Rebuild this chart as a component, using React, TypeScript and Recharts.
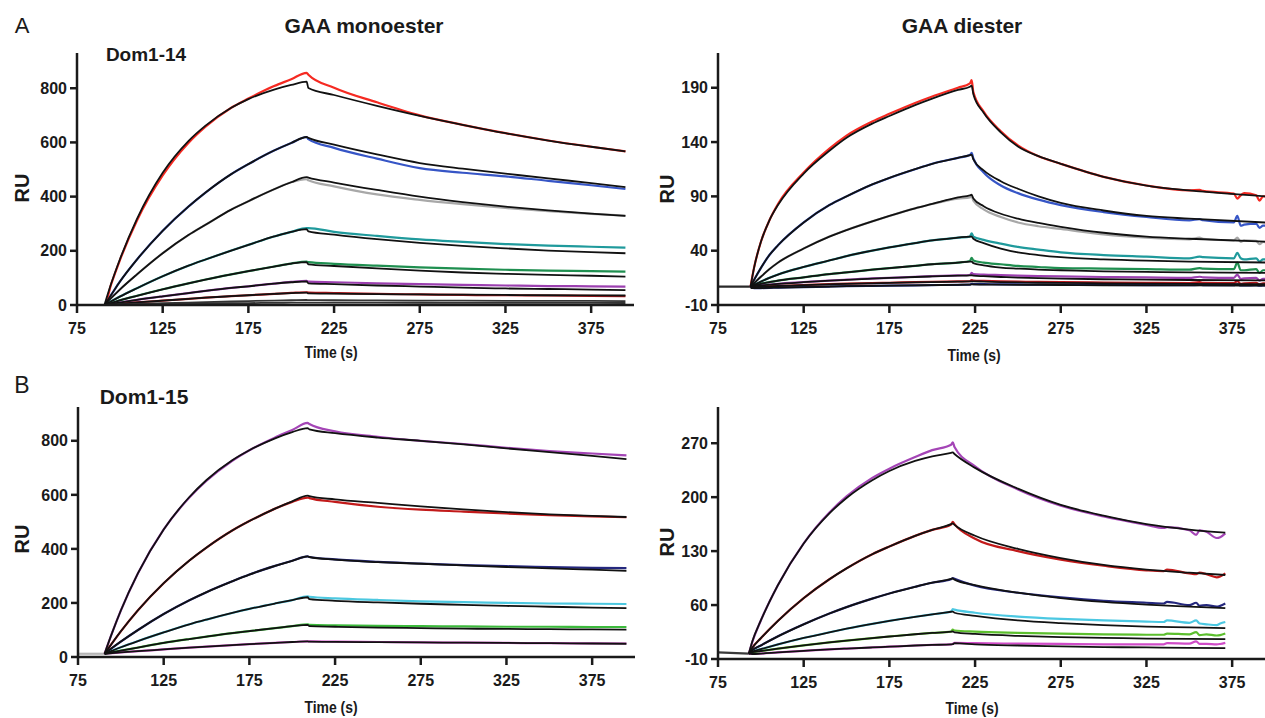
import { LineChart, Line, XAxis, YAxis } from "recharts";

document.body.style.margin = "0";

const FONT = "'Liberation Sans', Arial, Helvetica, sans-serif";
const INK = "#1a1a1a";
const Y_W = 60;
const X_H = 44;
const PAD = 6;

const xTicks = [75, 125, 175, 225, 275, 325, 375];

// ---- A: Dom1-14, GAA monoester ----
const a1Time = [75, 91, 95, 100, 110, 125, 140, 150, 165, 175, 190, 200, 209, 210, 225, 250, 275, 300, 325, 350, 375, 395];
const a1Red = [0, 0, 78, 165, 312, 478, 598, 658, 728, 762, 808, 833, 857, 850, 802, 748, 700, 665, 634, 607, 584, 567];
const a1RedFit = [null, 0, 80, 168, 318, 488, 605, 662, 728, 760, 795, 812, 824, 801, 775, 735, 698, 665, 634, 607, 584, 567];
const a1Blue = [0, 0, 38, 86, 168, 274, 363, 415, 483, 520, 570, 598, 620, 612, 580, 540, 505, 488, 475, 458, 442, 428];
const a1BlueFit = [null, 0, 38, 86, 168, 274, 363, 415, 483, 520, 570, 598, 620, 617, 592, 556, 524, 503, 485, 467, 450, 435];
const a1Gray = [0, 0, 26, 57, 113, 191, 258, 296, 352, 383, 427, 453, 464, 460, 438, 408, 388, 372, 358, 346, 336, 330];
const a1GrayFit = [null, 0, 26, 57, 113, 191, 258, 296, 352, 383, 427, 453, 472, 470, 452, 425, 400, 380, 363, 349, 337, 329];
const a1Teal = [0, 0, 14, 31, 62, 106, 145, 168, 201, 222, 253, 270, 284, 284, 270, 255, 242, 233, 225, 219, 215, 212];
const a1TealFit = [null, 0, 14, 31, 62, 106, 145, 168, 201, 222, 253, 270, 280, 272, 260, 243, 229, 218, 209, 201, 195, 191];
const a1Green = [0, 0, 7, 17, 34, 58, 80, 94, 113, 125, 142, 153, 160, 158, 152, 145, 139, 134, 130, 127, 125, 123];
const a1GreenFit = [null, 0, 7, 17, 34, 58, 80, 94, 113, 125, 142, 153, 158, 150, 144, 135, 127, 120, 115, 111, 108, 105];
const a1Purple = [0, 0, 4, 9, 19, 32, 44, 52, 63, 69, 79, 85, 89, 86, 84, 80, 77, 74, 72, 70, 69, 68];
const a1PurpleFit = [null, 0, 4, 9, 19, 32, 44, 52, 63, 69, 79, 84, 87, 80, 77, 72, 68, 64, 61, 59, 57, 55];
const a1DarkRed = [0, 0, 2, 4.5, 9.5, 16, 22.5, 27, 32.5, 36, 41, 44.5, 47, 46, 44, 41, 39, 37, 36, 35, 34, 33];
const a1DarkRedFit = [null, 0, 2, 4.5, 9.5, 16, 22.5, 27, 32.5, 36, 41, 44, 46, 43, 42, 40, 39, 38, 37, 36, 35.5, 35];
const a1Low1Fit = [null, 0, 1, 2, 4, 6.5, 9, 10.5, 13, 14.5, 16.5, 17.5, 18.5, 18, 17.5, 17, 16.5, 16, 15.5, 15, 15, 14.5];
const a1Low2Fit = [null, 0, 0.5, 1, 2, 3.5, 4.5, 5.5, 6.5, 7, 8, 8.5, 9, 9, 8.8, 8.5, 8.3, 8, 7.8, 7.6, 7.5, 7.4];

// ---- A: Dom1-14, GAA diester ----
const a2Time = [75, 94, 96, 100, 105, 110, 125, 140, 150, 165, 175, 190, 200, 215, 222, 223, 224, 230, 240, 250, 262, 275, 300, 325, 350, 356, 358, 376, 378, 380, 382, 389, 391, 393, 400];
const N9 = [null, null, null, null, null, null, null, null, null];
const a2Base = [7, 7];
const a2Red = [null, 7, 24, 48, 68, 83, 112, 134, 146, 159, 166, 176, 182, 190, 194, 197, 186, 168, 150, 137, 127, 120, 108, 100, 95.5, 96, 95, 92.5, 88, 91, 93, 91, 86, 90, 89];
const a2RedFit = [null, 7, 24, 48, 68, 82, 111, 132, 144, 157, 164, 174, 180, 188, 191, 192, 184, 167, 149, 136, 127, 120, 108, 100, 95.5, ...N9, 89.5];
const a2Blue = [null, 7, 13, 24, 36, 45, 66, 82, 90, 101, 107, 115, 120, 125.5, 128, 130, 125, 112, 100, 93, 87, 82, 75.5, 71, 68, 69, 68, 66, 72, 63, 64, 65, 61, 63, 63];
const a2BlueFit = [null, 7, 13, 24, 36, 45, 66, 82, 90, 101, 107, 115, 120, 125.5, 128, 128.5, 124, 114, 104, 97, 90, 84, 77, 72, 69.5, ...N9, 65.5];
const a2Gray = [null, 7, 10, 16, 23, 29, 42, 53, 59, 67, 72, 79, 83, 88, 89, 90, 86, 78, 71, 66, 62.5, 60, 55, 52, 50.5, 52, 51, 49.5, 52, 48, 49.5, 49, 46, 48, 47.5];
const a2GrayFit = [null, 7, 10, 16, 23, 29, 42, 53, 59, 67, 72, 79, 83, 89, 91, 91.5, 88, 81, 74, 69.5, 65.5, 62, 56.5, 53, 51, ...N9, 48];
const a2Teal = [null, 7, 8.5, 11.5, 15, 18, 25, 31, 35, 40, 43, 47, 49.5, 52, 53, 56, 53, 50, 46.5, 43.5, 41, 38.5, 36, 34.5, 33, 34.5, 34, 33, 38, 33, 32, 33, 30, 32, 31.5];
const a2TealFit = [null, 7, 8.5, 11.5, 15, 18, 25, 31, 35, 40, 43, 47, 49.5, 52, 53, 53, 51, 47, 42, 38.5, 36, 34, 32, 30.8, 30, ...N9, 29];
const a2Green = [null, 7, 7.8, 9.5, 11, 12.5, 15.5, 18.5, 20, 22.5, 24, 26, 27.5, 29, 30.5, 33.5, 31, 29, 27.5, 26, 25, 24, 23.5, 23, 22.5, 24, 23.5, 23, 29, 22, 22, 23, 19.5, 22, 21.5];
const a2GreenFit = [null, 7, 7.8, 9.5, 11, 12.5, 15.5, 18.5, 20, 22.5, 24, 26, 27.5, 29, 30, 30, 28.5, 26.5, 24.5, 23.5, 22.5, 22, 21, 20.5, 20, ...N9, 19.5];
const a2Purple = [null, 7, 7.5, 8, 8.8, 9.5, 11, 12.5, 13.3, 14.5, 15, 16, 16.5, 17.3, 17.6, 19.5, 18.5, 18, 17.5, 17, 16.6, 16.3, 15.8, 15.4, 15, 16, 15.5, 15, 18, 14, 14.5, 15, 12.5, 14, 14];
const a2PurpleFit = [null, 7, 7.4, 8, 8.7, 9.4, 11, 12.4, 13.2, 14.3, 14.9, 15.8, 16.3, 17, 17.3, 17.4, 17, 16.5, 15.8, 15.2, 14.7, 14.3, 13.7, 13.3, 13, ...N9, 12.6];
const a2DarkRed = [null, 7, 6.5, 6.8, 7.2, 7.6, 8.4, 9.2, 9.6, 10.2, 10.5, 11, 11.3, 11.7, 11.9, 13, 12.5, 12.2, 11.8, 11.5, 11.2, 11, 10.7, 10.4, 10.2, 11, 10.5, 10.2, 12, 9.5, 10, 10.5, 9, 10, 10];
const a2DarkRedFit = [null, 6.5, 6.5, 6.8, 7.1, 7.5, 8.3, 9, 9.5, 10, 10.3, 10.8, 11.1, 11.5, 11.7, 11.8, 11.8, 11.5, 11.1, 10.8, 10.5, 10.3, 10, 9.7, 9.5, ...N9, 9.2];
const a2Navy = [null, 7, 5.5, 5.6, 5.8, 6, 6.5, 7, 7.3, 7.6, 7.8, 8.1, 8.3, 8.6, 8.8, 9.5, 9.3, 9.2, 9, 8.9, 8.8, 8.7, 8.5, 8.3, 8.2, 8.5, 8.3, 8.2, 9, 8, 8, 8.2, 7.8, 8, 8];
const a2NavyFit = [null, 5.5, 5.5, 5.6, 5.8, 6, 6.5, 7, 7.3, 7.6, 7.8, 8.1, 8.3, 8.6, 8.8, 8.9, 8.9, 8.8, 8.7, 8.6, 8.5, 8.4, 8.2, 8.1, 8, ...N9, 7.9];

// ---- B: Dom1-15, GAA monoester ----
const b1Time = [75, 90.5, 95, 100, 110, 125, 140, 150, 165, 175, 190, 200, 209, 210, 225, 250, 275, 300, 325, 350, 375, 395];
const b1Base = [12, 12];
const b1Purple = [null, 12, 91, 172, 310, 472, 590, 652, 726, 765, 812, 840, 866, 862, 835, 815, 800, 788, 774, 762, 753, 746];
const b1PurpleFit = [null, 12, 91, 172, 310, 472, 592, 655, 728, 765, 809, 832, 847, 842, 828, 812, 800, 787, 772, 758, 744, 732];
const b1Red = [null, 12, 52, 95, 173, 273, 357, 405, 468, 503, 549, 574, 590, 588, 574, 556, 545, 538, 531, 525, 520, 517];
const b1RedFit = [null, 12, 52, 95, 173, 273, 357, 405, 468, 503, 549, 576, 597, 595, 583, 570, 557, 546, 536, 528, 522, 518];
const b1Navy = [null, 12, 34, 57, 100, 159, 210, 240, 280, 305, 337, 356, 372, 370, 361, 352, 346, 340, 336, 333, 330, 329];
const b1NavyFit = [null, 12, 34, 57, 100, 159, 210, 240, 280, 305, 337, 356, 372, 370, 360, 351, 345, 339, 333, 328, 323, 319];
const b1Cyan = [null, 12, 23.5, 36, 59, 91, 121, 138.5, 163, 178, 198, 210.5, 224, 223, 217, 211, 206, 203, 200, 198, 197, 196];
const b1CyanFit = [null, 12, 23.5, 36, 59, 91, 121, 138.5, 163, 178, 198, 210.5, 221, 214, 208, 202, 197, 193, 189, 186, 183, 181];
const b1Green = [null, 12, 17.6, 23.7, 35, 52, 66.5, 75.6, 88.5, 96, 107, 114, 121, 119, 117, 115, 114, 113, 112, 112, 111, 111];
const b1GreenFit = [null, 12, 17.6, 23.7, 35, 52, 66.5, 75.6, 88.5, 96, 107, 114, 119, 114, 112, 109, 107, 105, 104, 103, 102, 101];
const b1Magenta = [null, 12, 14.3, 16.8, 21.6, 28, 34.5, 38.5, 44, 47.5, 52.4, 55.5, 58, 58, 57, 55.5, 54, 53, 52, 51, 50.5, 50];
const b1MagentaFit = [null, 12, 14.3, 16.8, 21.6, 28, 34.5, 38.5, 44, 47.5, 52.4, 55.5, 57.5, 57, 56, 55, 54, 53, 52, 51, 50, 49];

// ---- B: Dom1-15, GAA diester ----
const b2Time = [75, 93, 95, 100, 110, 125, 140, 150, 165, 175, 190, 200, 211, 212, 213, 225, 250, 275, 300, 325, 335, 337, 350, 354, 356, 360, 366, 368, 371];
const b2Base = [-1.5, -3];
const b2Purple = [null, -3, 12, 40, 86, 140, 180, 201, 225, 237, 252, 261, 268, 271, 265, 240, 210, 189, 175, 164, 160, 161, 157, 151, 157, 155, 147, 148, 153];
const b2PurpleFit = [null, -3, 12.7, 40, 86, 140, 179, 199, 222, 234, 247, 253, 257.5, 258, 256, 238, 211, 190, 176, 165, null, null, 158, null, null, null, null, null, 154];
const b2Red = [null, -3, 4.5, 17, 39.6, 69, 93.5, 107.6, 126, 136, 149.8, 157.5, 164.5, 168, 165, 146, 130, 119, 111, 105, 104, 106, 101, 100, 102, 100, 96, 97, 101];
const b2RedFit = [null, -3, 4.5, 17, 39.6, 69, 93.5, 107.6, 126, 136, 149.8, 157.5, 165, 166, 164, 150, 133, 121, 112, 106, null, null, 102, null, null, null, null, null, 99];
const b2Navy = [null, -3, 1.3, 7.6, 19.4, 35, 49, 57.3, 68.3, 75, 83.7, 89, 93.5, 95, 94, 85, 76, 70, 65.5, 63, 62, 64, 60, 63, 59, 60, 58, 59, 62];
const b2NavyFit = [null, -3, 1.3, 7.6, 19.4, 35, 49, 57.3, 68.3, 75, 83.7, 89, 94, 94.7, 93, 86, 76, 69, 64, 60.5, null, null, 58, null, null, null, null, null, 56];
const b2Cyan = [null, -3, -0.4, 2.8, 8.9, 17.3, 24.7, 29.3, 35.6, 39.5, 44.8, 48, 51.5, 54.6, 54, 50, 45, 42, 40, 38.5, 38, 40, 37, 40, 36, 35, 34, 36, 38];
const b2CyanFit = [null, -3, -0.4, 2.8, 8.9, 17.3, 24.7, 29.3, 35.6, 39.5, 44.8, 48, 51.3, 51.6, 50, 46, 40, 36.5, 34, 32, null, null, 31, null, null, null, null, null, 30];
const b2Green = [null, -3, -1.2, 0.4, 3.4, 7.6, 11.5, 13.9, 17.2, 19.2, 22.1, 23.8, 25.5, 28, 27, 25.5, 24, 23, 22, 21.5, 21.5, 23, 22, 25, 21, 22, 20.5, 21, 23];
const b2GreenFit = [null, -3, -1.2, 0.4, 3.4, 7.6, 11.5, 13.9, 17.2, 19.2, 22.1, 23.8, 25.5, 25.8, 24.5, 22.5, 20, 18.5, 17.5, 16.5, null, null, 16, null, null, null, null, null, 15.8];
const b2Magenta = [null, -3, -3.5, -3, -1.5, 0.5, 2.5, 3.5, 5, 6, 7.5, 8.3, 9, 9.5, 11, 10.5, 10, 9.5, 9, 9, 9, 10.5, 10, 13, 9.5, 9.5, 9, 9.5, 11];
const b2MagentaFit = [null, -3, -3.5, -3, -1.5, 0.5, 2.5, 3.5, 5, 6, 7.5, 8.3, 9, 9.2, 10.5, 9, 7.5, 6.5, 5.5, 5, null, null, 4.5, null, null, null, null, null, 4.2];

type Series = { key: string; values: (number | null)[]; color: string; fit?: boolean };

const FIT = "#111111";

const a1Series: Series[] = [
  { key: "red", values: a1Red, color: "#f52a22" },
  { key: "blue", values: a1Blue, color: "#3655c6" },
  { key: "gray", values: a1Gray, color: "#a8a8a8" },
  { key: "teal", values: a1Teal, color: "#1f9a9c" },
  { key: "green", values: a1Green, color: "#1f8f50" },
  { key: "purple", values: a1Purple, color: "#9c40b0" },
  { key: "darkred", values: a1DarkRed, color: "#b8171c" },
  { key: "redFit", values: a1RedFit, color: FIT, fit: true },
  { key: "blueFit", values: a1BlueFit, color: FIT, fit: true },
  { key: "grayFit", values: a1GrayFit, color: FIT, fit: true },
  { key: "tealFit", values: a1TealFit, color: FIT, fit: true },
  { key: "greenFit", values: a1GreenFit, color: FIT, fit: true },
  { key: "purpleFit", values: a1PurpleFit, color: FIT, fit: true },
  { key: "darkredFit", values: a1DarkRedFit, color: FIT, fit: true },
  { key: "low1Fit", values: a1Low1Fit, color: "#333", fit: true },
  { key: "low2Fit", values: a1Low2Fit, color: "#333", fit: true },
];

const a2Series: Series[] = [
  { key: "base", values: a2Base, color: "#2a2a2a" },
  { key: "red", values: a2Red, color: "#f52a22" },
  { key: "blue", values: a2Blue, color: "#3655c6" },
  { key: "gray", values: a2Gray, color: "#a8a8a8" },
  { key: "teal", values: a2Teal, color: "#1f9a9c" },
  { key: "green", values: a2Green, color: "#1f8f50" },
  { key: "purple", values: a2Purple, color: "#9c40b0" },
  { key: "darkred", values: a2DarkRed, color: "#b8171c" },
  { key: "navy", values: a2Navy, color: "#1c2a8a" },
  { key: "redFit", values: a2RedFit, color: FIT, fit: true },
  { key: "blueFit", values: a2BlueFit, color: FIT, fit: true },
  { key: "grayFit", values: a2GrayFit, color: FIT, fit: true },
  { key: "tealFit", values: a2TealFit, color: FIT, fit: true },
  { key: "greenFit", values: a2GreenFit, color: FIT, fit: true },
  { key: "purpleFit", values: a2PurpleFit, color: FIT, fit: true },
  { key: "darkredFit", values: a2DarkRedFit, color: FIT, fit: true },
  { key: "navyFit", values: a2NavyFit, color: FIT, fit: true },
];

const b1Series: Series[] = [
  { key: "base", values: b1Base, color: "#b5b5b5" },
  { key: "purple", values: b1Purple, color: "#a445b6" },
  { key: "red", values: b1Red, color: "#c21a1a" },
  { key: "navy", values: b1Navy, color: "#25287e" },
  { key: "cyan", values: b1Cyan, color: "#4cc8e0" },
  { key: "green", values: b1Green, color: "#3cba3c" },
  { key: "magenta", values: b1Magenta, color: "#d04cc8" },
  { key: "purpleFit", values: b1PurpleFit, color: FIT, fit: true },
  { key: "redFit", values: b1RedFit, color: FIT, fit: true },
  { key: "navyFit", values: b1NavyFit, color: FIT, fit: true },
  { key: "cyanFit", values: b1CyanFit, color: FIT, fit: true },
  { key: "greenFit", values: b1GreenFit, color: FIT, fit: true },
  { key: "magentaFit", values: b1MagentaFit, color: FIT, fit: true },
];

const b2Series: Series[] = [
  { key: "base", values: b2Base, color: "#3a3a3a" },
  { key: "purple", values: b2Purple, color: "#a445b6" },
  { key: "red", values: b2Red, color: "#c21a1a" },
  { key: "navy", values: b2Navy, color: "#25287e" },
  { key: "cyan", values: b2Cyan, color: "#4cc8e2" },
  { key: "green", values: b2Green, color: "#5cbf2e" },
  { key: "magenta", values: b2Magenta, color: "#d04cc8" },
  { key: "purpleFit", values: b2PurpleFit, color: FIT, fit: true },
  { key: "redFit", values: b2RedFit, color: FIT, fit: true },
  { key: "navyFit", values: b2NavyFit, color: FIT, fit: true },
  { key: "cyanFit", values: b2CyanFit, color: FIT, fit: true },
  { key: "greenFit", values: b2GreenFit, color: FIT, fit: true },
  { key: "magentaFit", values: b2MagentaFit, color: FIT, fit: true },
];

function buildRows(time: number[], series: Series[]) {
  return time.map((t, i) => {
    const row: Record<string, number | null> = { t };
    series.forEach((s) => {
      row[s.key] = i < s.values.length ? s.values[i] : null;
    });
    return row;
  });
}

interface PanelProps {
  left: number;
  top: number;
  plotW: number;
  plotH: number;
  yDomain: [number, number];
  yTicks: number[];
  time: number[];
  series: Series[];
}

function Panel({ left, top, plotW, plotH, yDomain, yTicks, time, series }: PanelProps) {
  const rows = buildRows(time, series);
  const tickStyle = { fill: INK, fontSize: 16, fontWeight: 700, fontFamily: FONT };
  const axisStroke = { stroke: INK, strokeWidth: 2.5 };
  return (
    <div style={{ position: "absolute", left: left - Y_W, top: top - PAD }}>
      <LineChart
        width={Y_W + plotW}
        height={PAD + plotH + X_H}
        data={rows}
        margin={{ top: PAD, right: 0, bottom: 0, left: 0 }}
      >
        <XAxis
          type="number"
          dataKey="t"
          domain={[75, 400]}
          ticks={xTicks}
          interval={0}
          allowDataOverflow
          height={X_H}
          tickSize={8}
          tickMargin={10}
          axisLine={axisStroke}
          tickLine={axisStroke}
          tick={tickStyle}
        />
        <YAxis
          type="number"
          domain={yDomain}
          ticks={yTicks}
          interval={0}
          allowDataOverflow
          width={Y_W}
          tickSize={7}
          tickMargin={3}
          axisLine={axisStroke}
          tickLine={axisStroke}
          tick={tickStyle}
        />
        {series
          .filter((s) => !s.fit)
          .map((s) => (
            <Line
              key={s.key}
              type="monotone"
              dataKey={s.key}
              stroke={s.color}
              strokeWidth={2.2}
              dot={false}
              activeDot={false}
              isAnimationActive={false}
            />
          ))}
        {series
          .filter((s) => s.fit)
          .map((s) => (
            <Line
              key={s.key}
              type="monotone"
              dataKey={s.key}
              stroke={s.color}
              strokeWidth={1.8}
              dot={false}
              activeDot={false}
              connectNulls
              isAnimationActive={false}
            />
          ))}
      </LineChart>
    </div>
  );
}

function Txt({
  x,
  y,
  size,
  bold = true,
  rotate = 0,
  sx = 1,
  children,
}: {
  x: number;
  y: number;
  size: number;
  bold?: boolean;
  rotate?: number;
  sx?: number;
  children: string;
}) {
  return (
    <div
      style={{
        position: "absolute",
        left: x,
        top: y,
        transform: `translate(-50%, -50%) rotate(${rotate}deg) scaleX(${sx})`,
        fontFamily: FONT,
        fontSize: size,
        fontWeight: bold ? 700 : 400,
        color: INK,
        whiteSpace: "nowrap",
        lineHeight: 1,
      }}
    >
      {children}
    </div>
  );
}

export default function App() {
  return (
    <div
      style={{
        position: "relative",
        width: 1265,
        height: 718,
        overflow: "hidden",
        background: "#fff",
      }}
    >
      <Panel left={77} top={53} plotW={557} plotH={252} yDomain={[0, 930]} yTicks={[0, 200, 400, 600, 800]} time={a1Time} series={a1Series} />
      <Panel left={718} top={53} plotW={557} plotH={252} yDomain={[-10, 222]} yTicks={[-10, 40, 90, 140, 190]} time={a2Time} series={a2Series} />
      <Panel left={78} top={407} plotW={557} plotH={250} yDomain={[0, 925]} yTicks={[0, 200, 400, 600, 800]} time={b1Time} series={b1Series} />
      <Panel left={718} top={407} plotW={557} plotH={252} yDomain={[-10, 317]} yTicks={[-10, 60, 130, 200, 270]} time={b2Time} series={b2Series} />

      <Txt x={22} y={26} size={22} bold={false}>A</Txt>
      <Txt x={22} y={385} size={23} bold={false}>B</Txt>
      <Txt x={364} y={25} size={21}>GAA monoester</Txt>
      <Txt x={962} y={25} size={21}>GAA diester</Txt>
      <Txt x={146} y={54} size={19}>Dom1-14</Txt>
      <Txt x={144} y={396} size={21}>Dom1-15</Txt>

      <Txt x={22} y={188} size={20} rotate={-90}>RU</Txt>
      <Txt x={667} y={189} size={20} rotate={-90}>RU</Txt>
      <Txt x={22} y={539} size={20} rotate={-90}>RU</Txt>
      <Txt x={667} y={542} size={20} rotate={-90}>RU</Txt>

      <Txt x={331} y={352} size={17} sx={0.82}>Time (s)</Txt>
      <Txt x={974} y={355} size={17} sx={0.82}>Time (s)</Txt>
      <Txt x={331} y={707} size={17} sx={0.82}>Time (s)</Txt>
      <Txt x={972} y={708} size={17} sx={0.82}>Time (s)</Txt>
    </div>
  );
}
